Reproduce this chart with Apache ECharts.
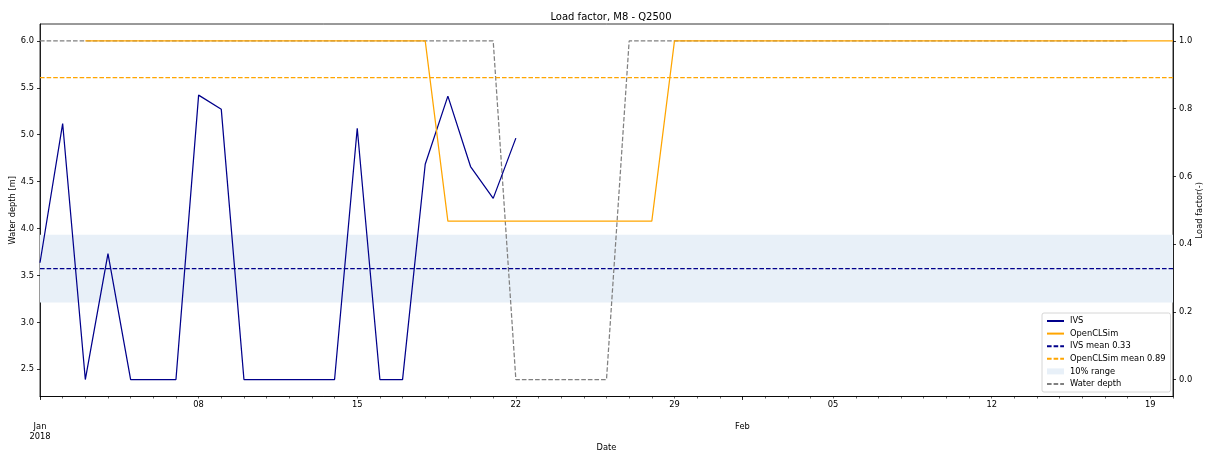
<!DOCTYPE html>
<html>
<head>
<meta charset="utf-8">
<title>Load factor, M8 - Q2500</title>
<script src="https://cdn.jsdelivr.net/npm/echarts@6/dist/echarts.min.js"></script>
<style>
  html, body { margin: 0; padding: 0; background: #fff; }
  #chart { width: 1208px; height: 453px; }
</style>
</head>
<body>
<div id="chart"></div>
<script>
// Daily series: each array starts on its own start date, one value per day.
const ivsStart = '2018-01-01';
const ivsLoad = [0.345, 0.756, 0.0, 0.372, 0.0, 0.0, 0.0, 0.840, 0.798, 0.0, 0.0,
                 0.0, 0.0, 0.0, 0.742, 0.0, 0.0, 0.636, 0.837, 0.629, 0.535, 0.713];

const simStart = '2018-01-03';
const simLoad = [1.0, 1.0, 1.0, 1.0, 1.0, 1.0, 1.0, 1.0, 1.0, 1.0, 1.0, 1.0, 1.0, 1.0, 1.0, 1.0,
                 0.468, 0.468, 0.468, 0.468, 0.468, 0.468, 0.468, 0.468, 0.468, 0.468,
                 1.0, 1.0, 1.0, 1.0, 1.0, 1.0, 1.0, 1.0, 1.0, 1.0, 1.0, 1.0, 1.0, 1.0, 1.0,
                 1.0, 1.0, 1.0, 1.0, 1.0, 1.0, 1.0, 1.0];

const depthStart = '2018-01-01';
const waterDepth = [6.0, 6.0, 6.0, 6.0, 6.0, 6.0, 6.0, 6.0, 6.0, 6.0, 6.0, 6.0, 6.0, 6.0,
                    6.0, 6.0, 6.0, 6.0, 6.0, 6.0, 6.0,
                    2.39, 2.39, 2.39, 2.39, 2.39,
                    6.0, 6.0, 6.0, 6.0, 6.0, 6.0, 6.0, 6.0, 6.0, 6.0, 6.0, 6.0, 6.0, 6.0,
                    6.0, 6.0, 6.0, 6.0, 6.0, 6.0, 6.0, 6.0, 6.0];

// Axis ranges and tick labels
const dateRange = ['2018-01-01', '2018-02-20'];
const weekTicks = ['2018-01-08', '2018-01-15', '2018-01-22', '2018-01-29',
                   '2018-02-05', '2018-02-12', '2018-02-19'];
const monthTicks = ['2018-01-01', '2018-02-01'];
const monthLabels = ['Jan\n2018', 'Feb'];
const depthRange = [2.2095, 6.1805];
const depthTicks = [2.5, 3.0, 3.5, 4.0, 4.5, 5.0, 5.5, 6.0];
const loadRange = [-0.05, 1.05];
const loadTicks = [0.0, 0.2, 0.4, 0.6, 0.8, 1.0];
const bandHalfWidth = 0.1;

const DAY = 86400000;
const ts = s => Date.parse(s + 'T00:00:00Z');
const daily = (start, values) => values.map((v, i) => [ts(start) + i * DAY, v]);
const mean = a => a.reduce((s, v) => s + v, 0) / a.length;

const xMin = ts(dateRange[0]);
const xMax = ts(dateRange[1]);
const allDays = [];
for (let t = xMin; t <= xMax; t += DAY) allDays.push(t);
const monthTs = monthTicks.map(ts);

const ivsMean = mean(ivsLoad);
const simMean = mean(simLoad);
const ivsMeanName = 'IVS mean ' + ivsMean.toFixed(2);
const simMeanName = 'OpenCLSim mean ' + simMean.toFixed(2);

const FONT = 'DejaVu Sans';
const FS = 8.3;
const LW = 1.25;
const DASH = [4.6, 2.0];
const NAVY = '#00008b';
const ORANGE = '#ffa500';
const GREY = '#808080';
const BAND = '#e8f0f8';

const chart = echarts.init(document.getElementById('chart'), null, { renderer: 'canvas' });

const axisText = { color: '#000', fontFamily: FONT, fontSize: FS };

chart.setOption({
  animation: false,
  backgroundColor: '#fff',
  textStyle: { fontFamily: FONT },
  title: {
    text: 'Load factor, M8 - Q2500',
    left: 606, top: 7, textAlign: 'center',
    textStyle: { fontFamily: FONT, fontSize: 10, fontWeight: 'normal', color: '#000' }
  },
  grid: {
    left: 40, top: 24, width: 1133, height: 372.5,
    show: true, borderColor: '#000', borderWidth: 0.8, backgroundColor: 'transparent',
    containLabel: false, outerBoundsMode: 'none'
  },
  legend: {
    orient: 'vertical',
    left: 1042, top: 313,
    padding: [4, 5, 4, 4],
    itemWidth: 17, itemHeight: 6, itemGap: 4.6,
    backgroundColor: 'rgba(255,255,255,0.8)',
    borderColor: '#cccccc', borderWidth: 0.8, borderRadius: 2,
    itemStyle: { opacity: 0, borderWidth: 0 },
    textStyle: { fontFamily: FONT, fontSize: FS, color: '#000', padding: [0, 0, 0, 1] },
    data: [
      { name: 'IVS' },
      { name: 'OpenCLSim' },
      { name: ivsMeanName },
      { name: simMeanName },
      { name: '10% range', icon: 'rect', itemStyle: { color: BAND, opacity: 1 } },
      { name: 'Water depth' }
    ]
  },
  xAxis: [
    {
      type: 'value', min: xMin, max: xMax, position: 'bottom',
      name: 'Date', nameLocation: 'middle', nameGap: 47.5,
      nameTextStyle: axisText,
      axisLine: { show: true, onZero: false, lineStyle: { color: '#000', width: 0.8 } },
      axisTick: { show: true, customValues: allDays, length: 2, lineStyle: { color: '#000', width: 0.6 } },
      axisLabel: {
        customValues: weekTicks.map(ts), margin: 4.5, ...axisText,
        formatter: v => String(new Date(v).getUTCDate()).padStart(2, '0')
      },
      splitLine: { show: false }
    },
    {
      type: 'value', min: xMin, max: xMax, position: 'bottom',
      axisLine: { show: false, onZero: false },
      axisTick: { show: true, customValues: monthTs, length: 3.5, lineStyle: { color: '#000', width: 0.8 } },
      axisLabel: {
        customValues: monthTs, margin: 25, lineHeight: 10, ...axisText,
        formatter: v => monthLabels[monthTs.indexOf(v)] || ''
      },
      splitLine: { show: false }
    }
  ],
  yAxis: [
    {
      type: 'value', min: depthRange[0], max: depthRange[1], position: 'left',
      name: 'Water depth [m]', nameLocation: 'middle', nameGap: 23, nameRotate: 90,
      nameMoveOverlap: false,
      nameTextStyle: axisText,
      axisLine: { show: true, onZero: false, lineStyle: { color: '#000', width: 0.8 } },
      axisTick: { show: true, customValues: depthTicks, length: 3, lineStyle: { color: '#000', width: 0.8 } },
      axisLabel: { customValues: depthTicks, margin: 6, ...axisText, formatter: v => v.toFixed(1) },
      splitLine: { show: false }
    },
    {
      type: 'value', min: loadRange[0], max: loadRange[1], position: 'right',
      name: 'Load factor(-)', nameLocation: 'middle', nameGap: 23, nameRotate: 90,
      nameMoveOverlap: false,
      nameTextStyle: axisText,
      axisLine: { show: true, onZero: false, lineStyle: { color: '#000', width: 0.8 } },
      axisTick: { show: true, customValues: loadTicks, length: 3, lineStyle: { color: '#000', width: 0.8 } },
      axisLabel: { customValues: loadTicks, margin: 6, ...axisText, formatter: v => v.toFixed(1) },
      splitLine: { show: false }
    }
  ],
  series: [
    {
      name: '10% range', type: 'line', xAxisIndex: 0, yAxisIndex: 1, z: 1,
      data: [[xMin, ivsMean], [xMax, ivsMean]],
      showSymbol: false, symbol: 'none', silent: true,
      itemStyle: { color: BAND },
      lineStyle: { width: 0, opacity: 0 },
      markArea: {
        silent: true,
        itemStyle: { color: BAND, borderWidth: 0 },
        data: [[{ yAxis: ivsMean - bandHalfWidth }, { yAxis: ivsMean + bandHalfWidth }]]
      }
    },
    {
      name: 'Water depth', type: 'line', xAxisIndex: 0, yAxisIndex: 0, z: 2,
      data: daily(depthStart, waterDepth),
      showSymbol: false, symbol: 'none',
      itemStyle: { color: GREY },
      lineStyle: { color: GREY, width: LW, type: DASH }
    },
    {
      name: 'IVS', type: 'line', xAxisIndex: 0, yAxisIndex: 1, z: 3,
      data: daily(ivsStart, ivsLoad),
      showSymbol: false, symbol: 'none',
      itemStyle: { color: NAVY },
      lineStyle: { color: NAVY, width: LW }
    },
    {
      name: 'OpenCLSim', type: 'line', xAxisIndex: 0, yAxisIndex: 1, z: 3,
      data: daily(simStart, simLoad),
      showSymbol: false, symbol: 'none',
      itemStyle: { color: ORANGE },
      lineStyle: { color: ORANGE, width: LW }
    },
    {
      name: ivsMeanName, type: 'line', xAxisIndex: 0, yAxisIndex: 1, z: 3,
      data: [[xMin, ivsMean], [xMax, ivsMean]],
      showSymbol: false, symbol: 'none',
      itemStyle: { color: NAVY },
      lineStyle: { color: NAVY, width: LW, type: DASH }
    },
    {
      name: simMeanName, type: 'line', xAxisIndex: 0, yAxisIndex: 1, z: 3,
      data: [[xMin, simMean], [xMax, simMean]],
      showSymbol: false, symbol: 'none',
      itemStyle: { color: ORANGE },
      lineStyle: { color: ORANGE, width: LW, type: DASH }
    }
  ]
});
</script>
</body>
</html>
